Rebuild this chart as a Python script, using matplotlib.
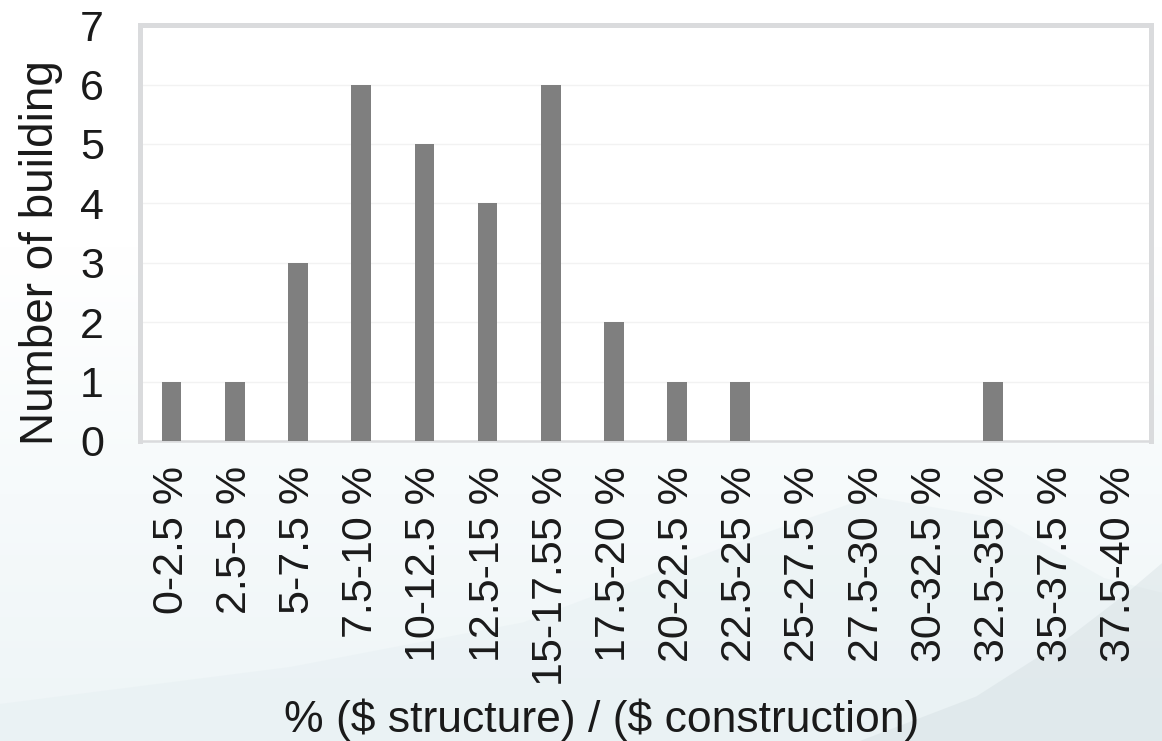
import numpy as np
import matplotlib
matplotlib.use("Agg")
import matplotlib.pyplot as plt
from matplotlib.colors import LinearSegmentedColormap

plt.rcParams['font.family'] = ['Liberation Sans', 'DejaVu Sans']
plt.rcParams['text.parse_math'] = False

categories = ["0-2.5 %", "2.5-5 %", "5-7.5 %", "7.5-10 %", "10-12.5 %",
              "12.5-15 %", "15-17.55 %", "17.5-20 %", "20-22.5 %", "22.5-25 %",
              "25-27.5 %", "27.5-30 %", "30-32.5 %", "32.5-35 %", "35-37.5 %",
              "37.5-40 %"]
counts = [1, 1, 3, 6, 5, 4, 6, 2, 1, 1, 0, 0, 0, 1, 0, 0]
y_ticks = [0, 1, 2, 3, 4, 5, 6, 7]

fig = plt.figure(figsize=(11.62, 7.41), dpi=100)

# soft hazy backdrop: white at top fading to pale blue-grey, with faint hills
bg = fig.add_axes([0, 0, 1, 1], zorder=-10)
bg.set_xlim(0, 1)
bg.set_ylim(0, 1)
bg.axis('off')
grad = np.linspace(0, 1, 256).reshape(-1, 1)
cmap = LinearSegmentedColormap.from_list(
    "haze", ["#eef5f7", "#f6fafb", "#ffffff", "#ffffff"])
bg.imshow(grad, extent=[0, 1, 0, 1], origin='lower', aspect='auto', cmap=cmap)
hx = np.array([0.0, 0.25, 0.45, 0.62, 0.75, 0.86, 0.95, 1.0, 1.0, 0.0])
hy = np.array([0.05, 0.10, 0.16, 0.26, 0.33, 0.30, 0.22, 0.20, 0.0, 0.0])
bg.fill(hx, hy, color="#e3edf0", alpha=0.35, lw=0)
hx2 = np.array([0.74, 0.84, 0.92, 0.97, 1.0, 1.0, 0.74])
hy2 = np.array([0.0, 0.06, 0.14, 0.20, 0.24, 0.0, 0.0])
bg.fill(hx2, hy2, color="#d3dde0", alpha=0.4, lw=0)

ax = fig.add_axes([0.1205, 0.405, 0.870, 0.561])
ax.set_facecolor("white")
x = np.arange(len(categories))
ax.bar(x, counts, width=0.31, color="#7f7f7f", zorder=3)

ax.set_xlim(-0.5, len(categories) - 0.5)
ax.set_ylim(0, 7)
ax.set_yticks(y_ticks)
ax.set_yticklabels([str(v) for v in y_ticks], fontsize=31, color="#1a1a1a")
ax.set_xticks(x)
ax.set_xticklabels(categories, rotation=90, fontsize=31, color="#1a1a1a")
ax.tick_params(axis='y', length=0, pad=26)
ax.tick_params(axis='x', length=0, pad=18)
ax.yaxis.grid(True, color="#f2f2f2", lw=1.0, zorder=0)
ax.set_axisbelow(True)

for side in ['left', 'top', 'right']:
    ax.spines[side].set_color("#dadbdd")
    ax.spines[side].set_linewidth(3.6)
ax.spines['bottom'].set_color("#dadbdd")
ax.spines['bottom'].set_linewidth(1.8)

ax.set_ylabel("Number of building", fontsize=33, color="#1a1a1a")
ax.yaxis.set_label_coords(-0.076, 0.454)
ax.set_xlabel("% ($ structure) / ($ construction)", fontsize=32,
              color="#1a1a1a")
ax.xaxis.set_label_coords(0.457, -0.62)

fig.savefig("out.png", dpi=100)
